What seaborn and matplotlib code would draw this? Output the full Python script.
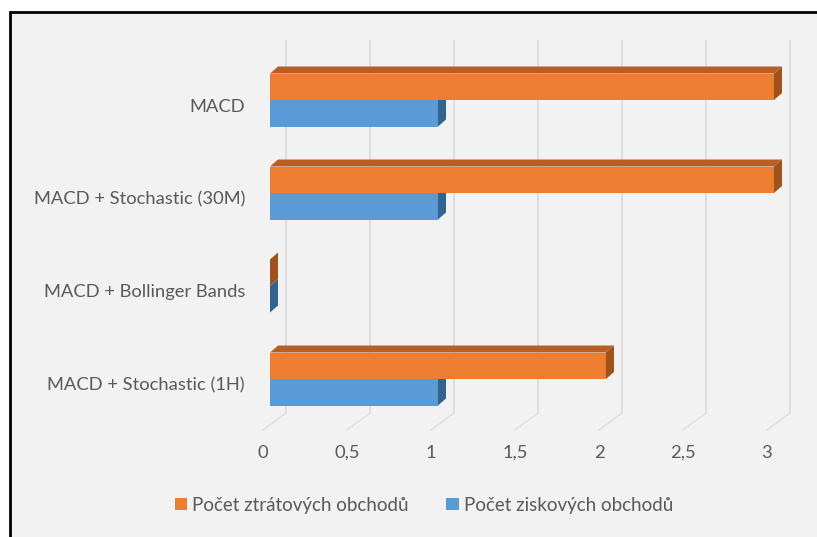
import pandas as pd
import seaborn as sns
import matplotlib.pyplot as plt
from matplotlib.patches import Polygon, Rectangle
from matplotlib.transforms import ScaledTranslation

categories = ['MACD', 'MACD + Stochastic (30M)', 'MACD + Bollinger Bands', 'MACD + Stochastic (1H)']
ztratove = [3, 3, 0, 2]
ziskove = [1, 1, 0, 1]
series_names = ['Počet ztrátových obchodů', 'Počet ziskových obchodů']
x_ticks = [0, 0.5, 1, 1.5, 2, 2.5, 3]
x_tick_labels = ['0', '0,5', '1', '1,5', '2', '2,5', '3']

W, H, DPI = 817, 537, 100
TEXT = '#595959'
GRID = '#dedede'
BG = '#f2f2f2'
FRONT = {'orange': '#ed7d31', 'blue': '#5b9bd5'}
TOP = ['#b85f26', '#3f6f9c']
SIDE = ['#a0521d', '#33648f']

# axes box in pixels of the final image
LEFT, RIGHT, TOP_PX, BOTTOM_PX = 270, 800, 41, 430
PX_PER_UNIT = 168
PX_PER_CAT = 93

sns.set_theme(style='white')
plt.rcParams['font.family'] = ['Lato', 'DejaVu Sans']
FONT_SIZE = 13.2
LEGEND_SIZE = 13.5

df = pd.DataFrame({
    'strategy': categories * 2,
    'value': ztratove + ziskove,
    'series': [series_names[0]] * 4 + [series_names[1]] * 4,
})

fig = plt.figure(figsize=(W / DPI, H / DPI), dpi=DPI, facecolor='white')
fig.add_artist(Rectangle((10 / W, -0.05), 1.1, 1.05 - 12 / H, transform=fig.transFigure,
                         facecolor=BG, edgecolor='black', linewidth=2.0, zorder=-1))
ax = fig.add_axes([LEFT / W, 1 - BOTTOM_PX / H, (RIGHT - LEFT) / W, (BOTTOM_PX - TOP_PX) / H])
ax.patch.set_alpha(0)

sns.barplot(data=df, y='strategy', x='value', hue='series', order=categories,
            palette=[FRONT['orange'], FRONT['blue']], width=53 / PX_PER_CAT, gap=0,
            saturation=1, linewidth=0, ax=ax, zorder=3)
ax.set_xlim(0, (RIGHT - LEFT) / PX_PER_UNIT)
ax.set_ylim((BOTTOM_PX - 100) / PX_PER_CAT, (TOP_PX - 100) / PX_PER_CAT)
ax.set_xlabel('')
ax.set_ylabel('')
sns.despine(ax=ax, left=True, bottom=True)

# depth of the fake 3D bars
dx = 8 / PX_PER_UNIT
dy = 7 / PX_PER_CAT
n = len(categories)
patches = list(ax.patches)[:2 * n]
for i, bar in reversed(list(enumerate(patches))):
    x0, y0 = bar.get_x(), bar.get_y()
    x1, y1 = x0 + bar.get_width(), y0 + bar.get_height()
    s = i // n
    ax.add_patch(Polygon([(x0, y0), (x1, y0), (x1 + dx, y0 - dy), (x0 + dx, y0 - dy)],
                         facecolor=TOP[s], linewidth=0, zorder=2.6 - 0.1 * s, clip_on=False))
    ax.add_patch(Polygon([(x1, y0), (x1, y1), (x1 + dx, y1 - dy), (x1 + dx, y0 - dy)],
                         facecolor=SIDE[s], linewidth=0, zorder=2.6 - 0.1 * s, clip_on=False))

# back wall lines and the slanted floor lines
floor = 17 / (BOTTOM_PX - TOP_PX)
for v in x_ticks:
    ax.plot([v + 16 / PX_PER_UNIT] * 2, [floor, 1], color=GRID, lw=1.4,
            transform=ax.get_xaxis_transform(), clip_on=False, zorder=1)
    ax.plot([v + 16 / PX_PER_UNIT, v - 7 / PX_PER_UNIT], [floor, 0], color=GRID, lw=1.0,
            transform=ax.get_xaxis_transform(), clip_on=False, zorder=1)

ax.set_xticks(x_ticks)
ax.set_xticklabels(x_tick_labels)
ax.tick_params(axis='x', length=0, pad=10.5, labelsize=FONT_SIZE, labelcolor=TEXT)
ax.tick_params(axis='y', length=0, pad=18, labelsize=FONT_SIZE, labelcolor=TEXT)
shift_x = ScaledTranslation(-7 / DPI, 0, fig.dpi_scale_trans)
shift_y = ScaledTranslation(0, -5 / DPI, fig.dpi_scale_trans)
for lab in ax.get_xticklabels():
    lab.set_transform(lab.get_transform() + shift_x)
for lab in ax.get_yticklabels():
    lab.set_transform(lab.get_transform() + shift_y)

handles, labels = ax.get_legend_handles_labels()
ax.legend(handles, labels, ncol=2, frameon=False, loc='center', bbox_transform=fig.transFigure,
          bbox_to_anchor=(424 / W, 1 - 505 / H), fontsize=LEGEND_SIZE, labelcolor=TEXT,
          handlelength=0.65, handleheight=0.65, handletextpad=0.27, columnspacing=2.0)

fig.savefig('out.png', dpi=DPI, facecolor='white')
